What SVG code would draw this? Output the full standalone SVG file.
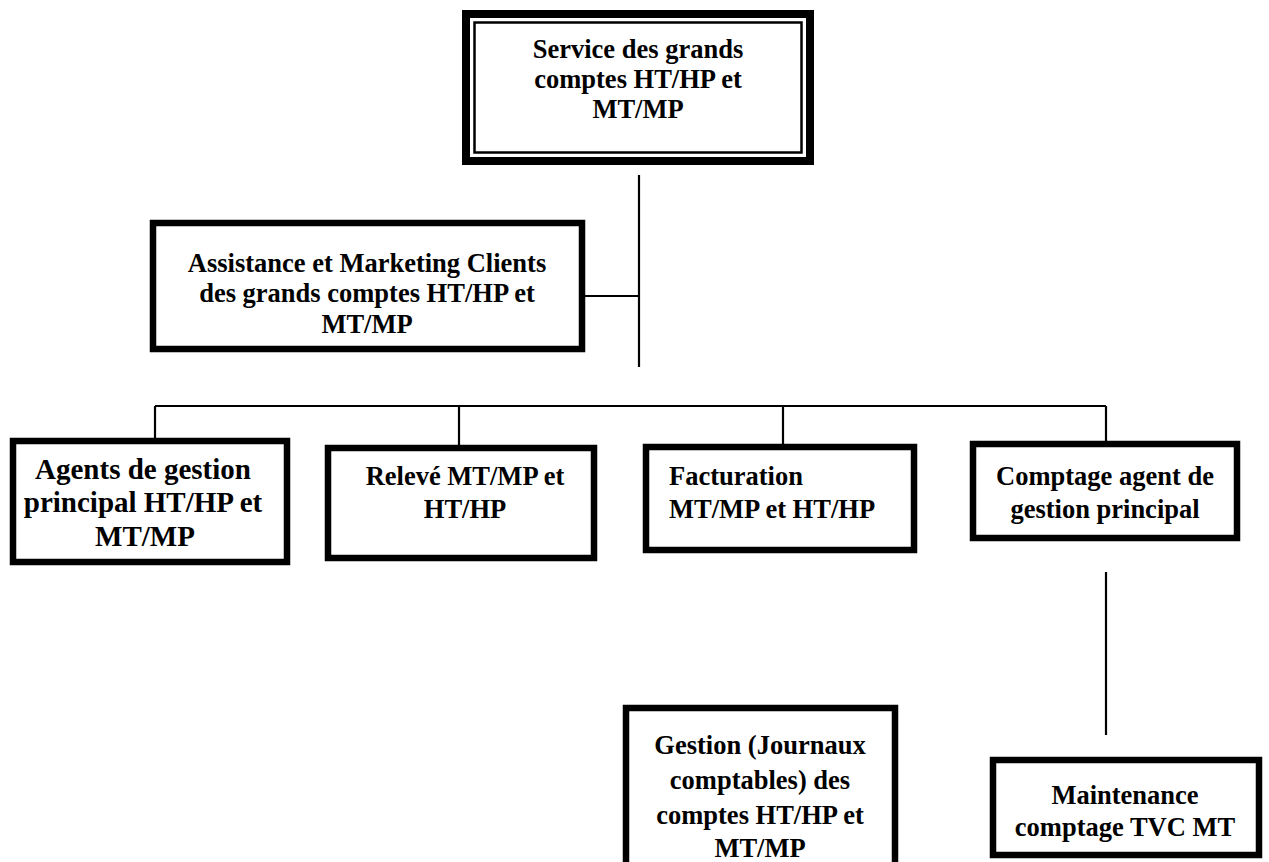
<svg xmlns="http://www.w3.org/2000/svg" width="1269" height="862" viewBox="0 0 1269 862">
  <style>
    .box { fill: #ffffff; stroke: #000000; stroke-width: 6.5; }
    .thin { fill: none; stroke: #000000; stroke-width: 2.5; }
    .link { fill: none; stroke: #000000; stroke-width: 2.2; }
    .t { font-family: "Liberation Serif", "Times New Roman", serif; font-weight: bold; font-size: 26.5px; fill: #000000; }
    .big { font-size: 29px; }
    .c { text-anchor: middle; }
  </style>
  <rect width="1269" height="862" fill="#ffffff"/>

  <!-- connectors -->
  <g id="connectors">
    <line class="link" x1="639" y1="175" x2="639" y2="367"/>
    <line class="link" x1="585" y1="296" x2="639" y2="296"/>
    <line class="link" x1="155" y1="406" x2="1106" y2="406"/>
    <line class="link" x1="155" y1="406" x2="155" y2="438"/>
    <line class="link" x1="459" y1="406" x2="459" y2="445"/>
    <line class="link" x1="783" y1="406" x2="783" y2="444"/>
    <line class="link" x1="1106" y1="406" x2="1106" y2="441"/>
    <line class="link" x1="1106" y1="572" x2="1106" y2="735"/>
  </g>

  <!-- head of service: double frame -->
  <g id="service">
    <rect x="466" y="14" width="344" height="147" fill="#ffffff" stroke="#000000" stroke-width="8"/>
    <rect x="474.5" y="22.5" width="327" height="130" class="thin"/>
    <text class="t c" x="638" y="58">Service des grands</text>
    <text class="t c" x="638" y="88">comptes HT/HP et</text>
    <text class="t c" x="638" y="118">MT/MP</text>
  </g>

  <g id="assistance">
    <rect class="box" x="153" y="223" width="429" height="126"/>
    <text class="t c" x="367" y="272">Assistance et Marketing Clients</text>
    <text class="t c" x="367" y="302">des grands comptes HT/HP et</text>
    <text class="t c" x="367" y="333">MT/MP</text>
  </g>

  <g id="agents">
    <rect class="box" x="13" y="441" width="274" height="121"/>
    <text class="t big c" x="143" y="479">Agents de gestion</text>
    <text class="t big c" x="143" y="512">principal HT/HP et</text>
    <text class="t big c" x="145" y="546">MT/MP</text>
  </g>

  <g id="releve">
    <rect class="box" x="328" y="448" width="266" height="110"/>
    <text class="t c" x="465" y="485">Relevé MT/MP et</text>
    <text class="t c" x="465" y="518">HT/HP</text>
  </g>

  <g id="facturation">
    <rect class="box" x="646" y="447" width="268" height="103"/>
    <text class="t" x="669" y="485">Facturation</text>
    <text class="t" x="669" y="518">MT/MP et HT/HP</text>
  </g>

  <g id="comptage">
    <rect class="box" x="973" y="444" width="264" height="94"/>
    <text class="t c" x="1105" y="485">Comptage agent de</text>
    <text class="t c" x="1105" y="518">gestion principal</text>
  </g>

  <g id="gestion">
    <rect class="box" x="626" y="708" width="269" height="160"/>
    <text class="t c" x="760" y="754">Gestion (Journaux</text>
    <text class="t c" x="760" y="789">comptables) des</text>
    <text class="t c" x="760" y="824">comptes HT/HP et</text>
    <text class="t c" x="760" y="857">MT/MP</text>
  </g>

  <g id="maintenance">
    <rect class="box" x="993" y="760" width="266" height="95"/>
    <text class="t c" x="1125" y="804">Maintenance</text>
    <text class="t c" x="1125" y="836">comptage TVC MT</text>
  </g>
</svg>
